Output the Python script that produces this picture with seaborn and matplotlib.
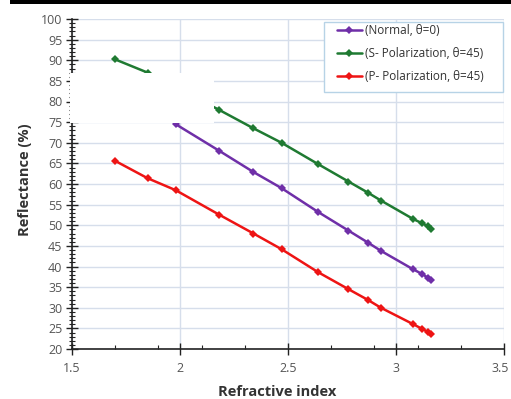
import matplotlib
matplotlib.use("Agg")
import matplotlib.pyplot as plt
import matplotlib.transforms as mtransforms
import seaborn as sns
import pandas as pd
from matplotlib.patches import Rectangle
from matplotlib.ticker import FixedLocator, MultipleLocator

# Data
x_normal = [1.98, 2.18, 2.34, 2.47, 2.64, 2.78, 2.87, 2.93, 3.08, 3.12, 3.15, 3.16]
y_normal = [74.5, 68.1, 62.9, 59.0, 53.2, 48.7, 45.8, 43.8, 39.3, 38.2, 37.2, 36.7]

x_s = [1.70, 1.85, 2.18, 2.34, 2.47, 2.64, 2.78, 2.87, 2.93, 3.08, 3.12, 3.15, 3.16]
y_s = [90.2, 87.0, 78.0, 73.5, 70.0, 64.8, 60.6, 57.9, 56.0, 51.5, 50.5, 49.7, 49.2]

x_p = [1.70, 1.85, 1.98, 2.18, 2.34, 2.47, 2.64, 2.78, 2.87, 2.93, 3.08, 3.12, 3.15, 3.16]
y_p = [65.6, 61.4, 58.5, 52.6, 48.0, 44.2, 38.6, 34.5, 31.9, 30.0, 26.0, 24.9, 24.1, 23.6]

series_names = ["(Normal, \u03b8=0)", "(S- Polarization, \u03b8=45)", "(P- Polarization, \u03b8=45)"]
series_colors = ["#6f2fa8", "#1f7a32", "#ee1414"]

x_ticks = [1.5, 2.0, 2.5, 3.0, 3.5]
x_tick_labels = ["1.5", "2", "2.5", "3", "3.5"]
y_ticks = list(range(20, 101, 5))

sns.set_style("white")
plt.rcParams["font.family"] = ["Open Sans", "DejaVu Sans"]

W, H = 511, 399
fig = plt.figure(figsize=(W / 100, H / 100), dpi=100)
ax = fig.add_axes([72 / W, 50 / H, 432 / W, 330 / H])

frames = []
for xs, ys, name in zip([x_normal, x_s, x_p], [y_normal, y_s, y_p], series_names):
    frames.append(pd.DataFrame({"n": xs, "R": ys, "series": name}))
df = pd.concat(frames, ignore_index=True)

sns.lineplot(data=df, x="n", y="R", hue="series", hue_order=series_names,
             palette=dict(zip(series_names, series_colors)), marker="D",
             markersize=4.5, markeredgewidth=0, linewidth=1.8, ax=ax, sort=False,
             estimator=None)

ax.set_xlim(1.5, 3.5)
ax.set_ylim(20, 100)
ax.xaxis.set_major_locator(FixedLocator(x_ticks))
ax.set_xticklabels(x_tick_labels)
ax.xaxis.set_minor_locator(FixedLocator([1.7, 1.9, 2.1, 2.3, 2.7, 2.9, 3.1, 3.3]))
ax.yaxis.set_major_locator(FixedLocator(y_ticks))
ax.yaxis.set_minor_locator(MultipleLocator(1))

ax.grid(True, which="major", color="#d6deeb", linewidth=1.0)
ax.set_axisbelow(True)
for side in ["top", "right"]:
    ax.spines[side].set_visible(False)
for side in ["left", "bottom"]:
    ax.spines[side].set_color("#222222")
    ax.spines[side].set_linewidth(1.2)

ax.tick_params(axis="both", which="major", direction="inout", length=8, width=1.0,
               color="#222222", labelsize=9, labelcolor="#555555", pad=3)
ax.tick_params(axis="both", which="minor", direction="inout", length=4, width=0.8,
               color="#222222")
ax.tick_params(axis="x", which="major", pad=5)
ax.tick_params(axis="x", which="minor", direction="in", length=3)
ax.tick_params(left=True, bottom=True, which="both")

# nudge the last x tick label a little left so it stays inside the canvas
last = ax.get_xticklabels()[-1]
last.set_transform(last.get_transform() +
                   mtransforms.ScaledTranslation(-4 / 100, 0, fig.dpi_scale_trans))

ax.set_xlabel("Refractive index", fontsize=10.5, fontweight="bold", color="#333333")
ax.set_ylabel("Reflectance (%)", fontsize=10.5, fontweight="bold", color="#333333")
ax.xaxis.set_label_coords((277.5 - 72) / 432, (349 - 391.5) / 330)
ax.yaxis.set_label_coords((25 - 72) / 432, (349 - 180) / 330)
ax.xaxis.label.set_va("center")
ax.yaxis.label.set_va("center")

# legend frame and entries
frame = Rectangle((324 / W, (H - 92) / H), 179 / W, 70 / H, transform=fig.transFigure,
                  facecolor="white", edgecolor="#b7d3e6", linewidth=1.0, zorder=4,
                  clip_on=False)
ax.add_artist(frame)
leg = ax.legend(loc="upper left", bbox_to_anchor=(337 / W, (H - 24) / H),
                bbox_transform=fig.transFigure, fontsize=8.5, frameon=False,
                handlelength=2.1, handletextpad=0.3, borderpad=0.0,
                labelspacing=0.85, borderaxespad=0.0)
leg.set_zorder(5)
for t in leg.get_texts():
    t.set_color("#333333")

# black bar at the top and white occluding box as in the reference
fig.add_artist(Rectangle((10 / W, 395 / H), 1 - 10 / W, 4 / H,
                         transform=fig.transFigure, facecolor="black", edgecolor="none", zorder=10))
fig.add_artist(Rectangle((69.5 / W, (H - 123) / H), 144.5 / W, 50 / H,
                         transform=fig.transFigure, facecolor="white", edgecolor="none", zorder=10))

fig.savefig("out.png", dpi=100)
